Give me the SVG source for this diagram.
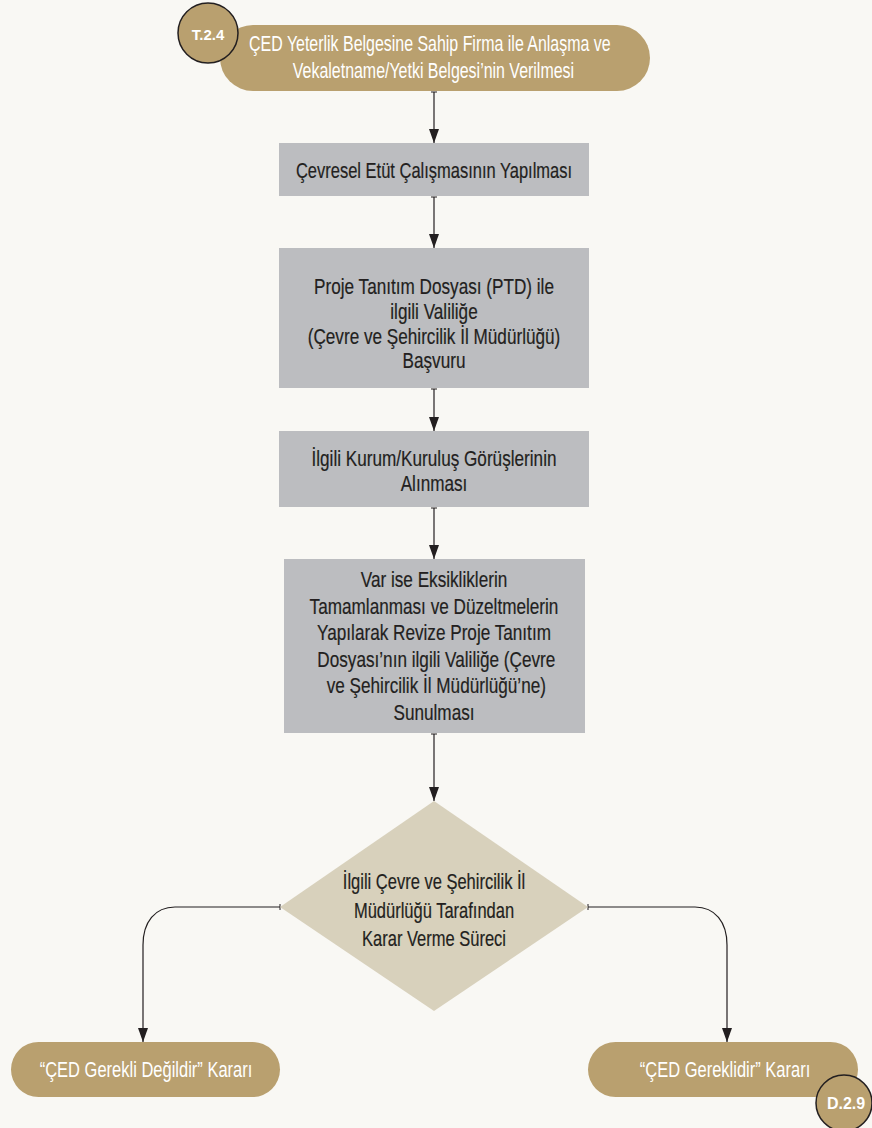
<svg xmlns="http://www.w3.org/2000/svg" width="872" height="1128" viewBox="0 0 872 1128">
<defs>
<style>
.bg{fill:#f9f8f4}
.pill{fill:#b9a06f}
.box{fill:#bcbdc0}
.dia{fill:#d8d1bc}
.badge{fill:#b9a06f;stroke:#231f20;stroke-width:1.5}
.t{font-family:"Liberation Sans",Arial,sans-serif;font-size:22px;text-anchor:middle}
.dk{fill:#231f20;stroke:#231f20;stroke-width:0.2}
.wh{fill:#ffffff}
.bt{font-family:"Liberation Sans",Arial,sans-serif;font-weight:bold;fill:#ffffff;text-anchor:middle}
.ln{fill:none;stroke:#231f20;stroke-width:1.2}
</style>
<marker id="ahd" viewBox="0 0 14 10" refX="14" refY="5" markerWidth="14" markerHeight="10" markerUnits="userSpaceOnUse" orient="auto">
<path d="M0,0 L14,5 L0,10 Z" fill="#231f20"/>
</marker>
<marker id="tk" viewBox="0 0 2 6" refX="1" refY="3" markerWidth="2" markerHeight="6" markerUnits="userSpaceOnUse" orient="auto">
<path d="M1,0 V6" stroke="#231f20" stroke-width="1"/>
</marker>
</defs>
<rect class="bg" x="0" y="0" width="872" height="1128"/>

<g id="connectors">
<path class="ln" d="M434,92 V143" marker-start="url(#tk)" marker-end="url(#ahd)"/>
<path class="ln" d="M434,197 V248" marker-start="url(#tk)" marker-end="url(#ahd)"/>
<path class="ln" d="M434,389 V431" marker-start="url(#tk)" marker-end="url(#ahd)"/>
<path class="ln" d="M434,508 V559" marker-start="url(#tk)" marker-end="url(#ahd)"/>
<path class="ln" d="M434,734 V801" marker-start="url(#tk)" marker-end="url(#ahd)"/>
<path class="ln" d="M280,907 H175 C155,907 143,922 143,945 V1042" marker-start="url(#tk)" marker-end="url(#ahd)"/>
<path class="ln" d="M588,907 H695 C715,907 727,922 727,945 V1042" marker-start="url(#tk)" marker-end="url(#ahd)"/>
</g>

<g id="n1">
<rect class="pill" x="220" y="25" width="430" height="66" rx="33"/>
<g transform="translate(432,0) scale(0.725,1)">
<text class="t wh" x="-3" y="51">ÇED Yeterlik Belgesine Sahip Firma ile Anlaşma ve</text>
<text class="t wh" x="2" y="78">Vekaletname/Yetki Belgesi’nin Verilmesi</text>
</g>
</g>
<g id="badge-t24">
<circle class="badge" cx="208" cy="33" r="30"/>
<text class="bt" x="208" y="40" font-size="15">T.2.4</text>
</g>

<g id="n2">
<rect class="box" x="279" y="143" width="310" height="53"/>
<g transform="translate(434,0) scale(0.75,1)">
<text class="t dk" x="0" y="178">Çevresel Etüt Çalışmasının Yapılması</text>
</g>
</g>

<g id="n3">
<rect class="box" x="279" y="248" width="310" height="140"/>
<g transform="translate(434,0) scale(0.78,1)">
<text class="t dk" x="0" y="294">Proje Tanıtım Dosyası (PTD) ile</text>
<text class="t dk" x="0" y="319">ilgili Valiliğe</text>
<text class="t dk" x="0" y="344">(Çevre ve Şehircilik İl Müdürlüğü)</text>
<text class="t dk" x="0" y="368">Başvuru</text>
</g>
</g>

<g id="n4">
<rect class="box" x="279" y="431" width="310" height="76"/>
<g transform="translate(434,0) scale(0.78,1)">
<text class="t dk" x="0" y="466">İlgili Kurum/Kuruluş Görüşlerinin</text>
<text class="t dk" x="0" y="491">Alınması</text>
</g>
</g>

<g id="n5">
<rect class="box" x="284" y="559" width="301" height="174"/>
<g transform="translate(434,0) scale(0.78,1)">
<text class="t dk" x="0" y="587">Var ise Eksikliklerin</text>
<text class="t dk" x="0" y="614">Tamamlanması ve Düzeltmelerin</text>
<text class="t dk" x="0" y="640">Yapılarak Revize Proje Tanıtım</text>
<text class="t dk" x="3" y="667">Dosyası’nın ilgili Valiliğe (Çevre</text>
<text class="t dk" x="3" y="693">ve Şehircilik İl Müdürlüğü’ne)</text>
<text class="t dk" x="0" y="720">Sunulması</text>
</g>
</g>

<g id="n6">
<polygon class="dia" points="434,801 588,907 434,1011 280,907"/>
<g transform="translate(434,0) scale(0.75,1)">
<text class="t dk" x="0" y="889">İlgili Çevre ve Şehircilik İl</text>
<text class="t dk" x="0" y="918">Müdürlüğü Tarafından</text>
<text class="t dk" x="0" y="946">Karar Verme Süreci</text>
</g>
</g>

<g id="n7">
<rect class="pill" x="11" y="1042" width="269" height="55" rx="27.5"/>
<g transform="translate(146,0) scale(0.75,1)">
<text class="t wh" x="0" y="1077">“ÇED Gerekli Değildir” Kararı</text>
</g>
</g>

<g id="n8">
<rect class="pill" x="588" y="1042" width="270" height="55" rx="27.5"/>
<g transform="translate(725,0) scale(0.75,1)">
<text class="t wh" x="0" y="1077">“ÇED Gereklidir” Kararı</text>
</g>
</g>
<g id="badge-d29">
<circle class="badge" cx="844" cy="1103" r="28"/>
<text class="bt" x="846" y="1109" font-size="16">D.2.9</text>
</g>
</svg>
